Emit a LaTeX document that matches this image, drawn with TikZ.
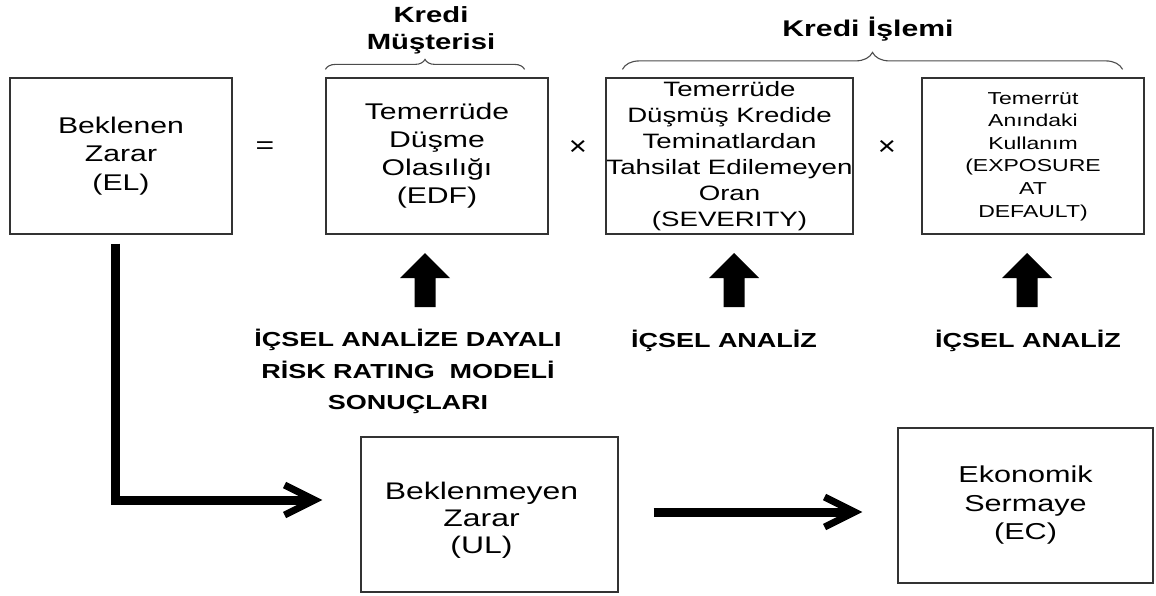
\documentclass[tikz,border=0pt]{standalone}
\usepackage{fontspec}
\setmainfont{Liberation Sans}
\usepackage{graphicx}
\usetikzlibrary{calc,arrows.meta,decorations.pathreplacing}

% centred multi-line text, widened horizontally
\newcommand{\wtext}[1]{\scalebox{1.33}[1]{\begin{tabular}{@{}c@{}}#1\end{tabular}}}

\tikzset{
  box/.style={draw=black!80, line width=1.2pt, inner sep=0pt, fill=white},
  fat/.style={line width=9pt, -{Straight Barb[length=30pt,width=30pt,line width=7pt]}},
  curly/.style={draw=black!70, line width=1.1pt, decorate,
    decoration={brace, amplitude=#1}},
  lbl/.style={inner sep=0pt, font={\bfseries\fontsize{20.3}{31.5}\selectfont}},
  op/.style={inner sep=0pt},
  uparr/.pic={\fill (0,0) -- (25,25) -- (10.5,25) -- (10.5,54) -- (-10.5,54)
      -- (-10.5,25) -- (-25,25) -- cycle;}
}

\begin{document}
\begin{tikzpicture}[x=1pt, y=-1pt]
\useasboundingbox (0,0) rectangle (1156,595);

% top row: EL = EDF x SEVERITY x EAD
\node[box, minimum width=222pt, minimum height=156pt,
      font={\fontsize{22.7}{28.5}\selectfont}] (el) at (121,156)
  {\wtext{Beklenen\\Zarar\\(EL)}};
\node[box, minimum width=222pt, minimum height=156pt,
      font={\fontsize{22.7}{28}\selectfont}] (edf) at (437,156)
  {\wtext{Temerrüde\\Düşme\\Olasılığı\\(EDF)}};
\node[box, minimum width=247pt, minimum height=156pt,
      font={\fontsize{20.8}{26}\selectfont}] (sev) at (729.5,156)
  {\wtext{Temerrüde\\Düşmüş Kredide\\Teminatlardan\\Tahsilat Edilemeyen\\Oran\\(SEVERITY)}};
\node[box, minimum width=222pt, minimum height=156pt,
      font={\fontsize{17.3}{22.6}\selectfont}] (ead) at (1033,156)
  {\wtext{Temerrüt\\Anındaki\\Kullanım\\(EXPOSURE\\AT\\DEFAULT)}};

\node[op, font={\fontsize{24}{28}\selectfont}] (eq) at (265,148) {\scalebox{1.33}[1]{=}};
\node[op, font={\fontsize{27}{30}\selectfont}] (x1) at (578,148) {\scalebox{1.15}[1]{×}};
\node[op, font={\fontsize{27}{30}\selectfont}] (x2) at (887,148) {\scalebox{1.15}[1]{×}};

% group braces and their titles
\draw[curly=10pt] ($(edf.north west)+(0,-8)$) -- ($(edf.north east)+(-24,-8)$);
\draw[curly=17pt] ($(sev.north west)+(17,-8)$) -- ($(ead.north east)+(-22,-8)$);
\node[inner sep=0pt, font={\bfseries\fontsize{22}{27}\selectfont}] (musteri) at (431,31)
  {\wtext{Kredi\\Müşterisi}};
\node[inner sep=0pt, anchor=base, font={\bfseries\fontsize{22.7}{27}\selectfont}] (islem) at (868,36)
  {\scalebox{1.33}[1]{Kredi İşlemi}};

% inputs
\pic at (425,253) {uparr};
\pic at (734,253) {uparr};
\pic at (1027,253) {uparr};
\node[lbl] (in1) at (408,372) {\wtext{İÇSEL ANALİZE DAYALI\\RİSK RATING\ \ MODELİ\\SONUÇLARI}};
\node[lbl] (in2) at (724,341) {\wtext{İÇSEL ANALİZ}};
\node[lbl] (in3) at (1028,341) {\wtext{İÇSEL ANALİZ}};

% bottom row
\node[box, minimum width=257pt, minimum height=155pt,
      font={\fontsize{24}{27}\selectfont}] (ul) at (489.5,514.5)
  {\raisebox{-12.5pt}[0pt][0pt]{\wtext{Beklenmeyen\\Zarar\\(UL)}}\hspace*{16pt}};
\node[box, minimum width=255pt, minimum height=155pt,
      font={\fontsize{23}{28.5}\selectfont}] (ec) at (1025.5,505.5)
  {\wtext{Ekonomik\\Sermaye\\(EC)}};

% connectors
\draw[fat] ($(el.south)+(-6,9)$) |- ($(ul.west)+(-38,-14.5)$);
\draw[fat] ($(ul.east)+(35,-2.5)$) -- ($(ec.west)+(-35,6.5)$);
\end{tikzpicture}
\end{document}
